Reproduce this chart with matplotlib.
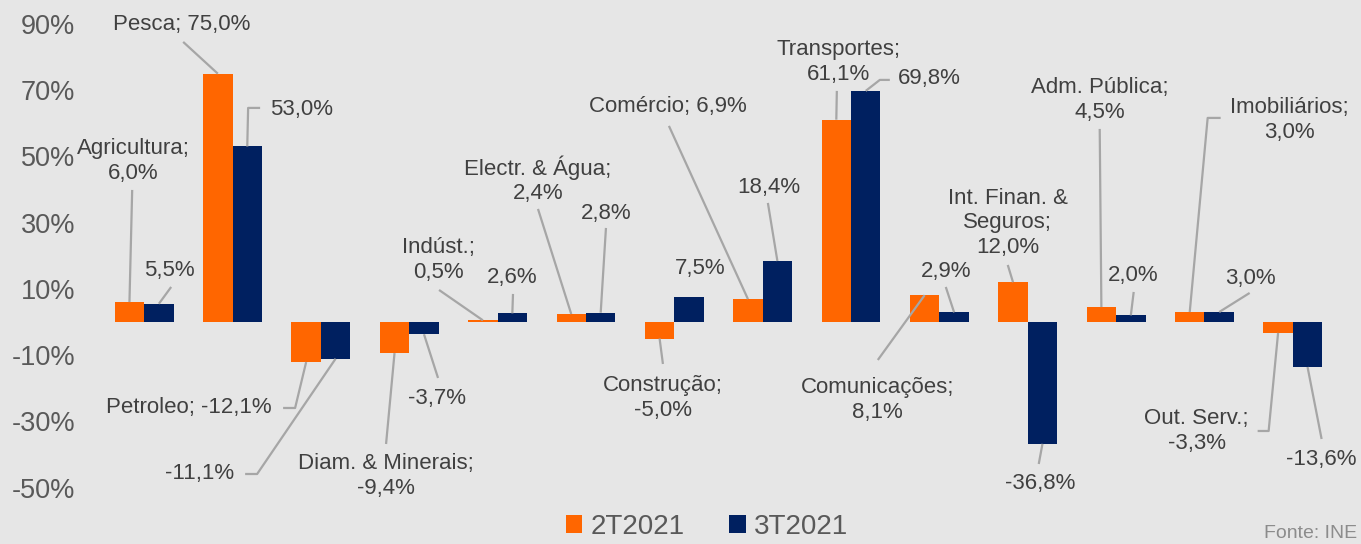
import matplotlib
matplotlib.use("Agg")
import matplotlib.pyplot as plt

# data
categories = ["Agricultura", "Pesca", "Petroleo", "Diam. & Minerais", "Indúst.",
              "Electr. & Água", "Construção", "Comércio", "Transportes",
              "Comunicações", "Int. Finan. & Seguros", "Adm. Pública",
              "Imobiliários", "Out. Serv."]
series_names = ["2T2021", "3T2021"]
t2_2021 = [6.0, 75.0, -12.1, -9.4, 0.5, 2.4, -5.0, 6.9, 61.1, 8.1, 12.0, 4.5, 3.0, -3.3]
t3_2021 = [5.5, 53.0, -11.1, -3.7, 2.6, 2.8, 7.5, 18.4, 69.8, 2.9, -36.8, 2.0, 3.0, -13.6]
y_ticks = [-50, -30, -10, 10, 30, 50, 70, 90]

# label texts for each bar (series, category index, text)
label_texts = [
    (0, 0, "Agricultura;\n6,0%"), (1, 0, "5,5%"),
    (0, 1, "Pesca; 75,0%"), (1, 1, "53,0%"),
    (0, 2, "Petroleo; -12,1%"), (1, 2, "-11,1%"),
    (0, 3, "Diam. & Minerais;\n-9,4%"), (1, 3, "-3,7%"),
    (0, 4, "Indúst.;\n0,5%"), (1, 4, "2,6%"),
    (0, 5, "Electr. & Água;\n2,4%"), (1, 5, "2,8%"),
    (0, 6, "Construção;\n-5,0%"), (1, 6, "7,5%"),
    (0, 7, "Comércio; 6,9%"), (1, 7, "18,4%"),
    (0, 8, "Transportes;\n61,1%"), (1, 8, "69,8%"),
    (0, 9, "Comunicações;\n8,1%"), (1, 9, "2,9%"),
    (0, 10, "Int. Finan. &\nSeguros;\n12,0%"), (1, 10, "-36,8%"),
    (0, 11, "Adm. Pública;\n4,5%"), (1, 11, "2,0%"),
    (0, 12, "Imobiliários;\n3,0%"), (1, 12, "3,0%"),
    (0, 13, "Out. Serv.;\n-3,3%"), (1, 13, "-13,6%"),
]

# layout: label centre and leader points in image pixels (same order as label_texts)
label_layout = [
    ((133, 161), [(132, 190)]), ((169, 271), [(171, 287)]),
    ((182, 25), [(183, 42)]), ((301, 110), [(260, 108), (248, 108)]),
    ((189, 408), [(283, 408), (295, 408)]), ((199, 474), [(245, 474), (257, 474)]),
    ((386, 476), [(386, 444)]), ((437, 399), [(438, 378)]),
    ((438, 260), [(439, 290)]), ((512, 278), [(513, 294)]),
    ((538, 180), [(538, 209)]), ((606, 214), [(606, 228)]),
    ((663, 398), [(663, 364)]), ((700, 269), []),
    ((668, 107), [(669, 126)]), ((769, 188), [(768, 203)]),
    ((839, 62), [(837, 91)]), ((930, 79), [(890, 80), (880, 80)]),
    ((878, 400), [(878, 360)]), ((946, 272), [(946, 287)]),
    ((1008, 223), [(1008, 265)]), ((1040, 484), [(1039, 464)]),
    ((1100, 100), [(1100, 129)]), ((1133, 276), [(1134, 292)]),
    ((1290, 120), [(1221, 118), (1208, 118)]), ((1251, 279), [(1250, 293)]),
    ((1197, 431), [(1258, 431), (1269, 431)]), ((1322, 460), [(1322, 439)]),
]

BG = "#e6e6e6"
colors = ["#ff6600", "#002060"]
TXT = "#404040"
LINE = "#a6a6a6"


def p2d(px, py):
    # image pixel -> data coordinates
    return (px - 144) / 88.4, (322 - py) / 3.31


plt.rcParams["font.family"] = ["Liberation Sans", "DejaVu Sans"]

fig = plt.figure(figsize=(13.61, 5.44), dpi=100, facecolor=BG)
ax = fig.add_axes([100 / 1361, 1 - 487.5 / 544, 1237 / 1361, 463.5 / 544])
ax.set_facecolor(BG)

w = 1 / 3
xs = list(range(len(categories)))
ax.bar([x - w / 2 for x in xs], t2_2021, width=w, color=colors[0], label=series_names[0])
ax.bar([x + w / 2 for x in xs], t3_2021, width=w, color=colors[1], label=series_names[1])

ax.set_xlim(-0.5, len(categories) - 0.5)
ax.set_ylim(-50, 90)
ax.set_yticks(y_ticks)
ax.set_yticklabels([f"{t}%" for t in y_ticks], fontsize=19.5, color="#595959")
ax.tick_params(axis="y", length=0, pad=18)
ax.set_xticks([])
for s in ax.spines.values():
    s.set_visible(False)

vals = [t2_2021, t3_2021]
for (ser, i, txt), (pos, pts) in zip(label_texts, label_layout):
    bx = i - w / 2 if ser == 0 else i + w / 2
    by = vals[ser][i]
    tx, ty = p2d(*pos)
    ax.text(tx, ty, txt, ha="center", va="center", fontsize=16, color=TXT,
            linespacing=1.2, clip_on=False)
    if pts:
        path = [p2d(*p) for p in pts] + [(bx, by)]
        ax.plot([p[0] for p in path], [p[1] for p in path], color=LINE, lw=1.6,
                clip_on=False, solid_capstyle="butt")

leg = fig.legend(loc="center", bbox_to_anchor=(707 / 1361, 1 - 527 / 544), ncol=2,
                 frameon=False, fontsize=20, handlelength=0.6, handleheight=0.6,
                 handletextpad=0.3, columnspacing=1.6, labelcolor="#595959",
                 borderpad=0.1)

fig.text(1357 / 1361, 2 / 544, "Fonte: INE", ha="right", va="bottom",
         fontsize=14, color="#8c8c8c")

fig.savefig("out.png", dpi=100, facecolor=BG)
